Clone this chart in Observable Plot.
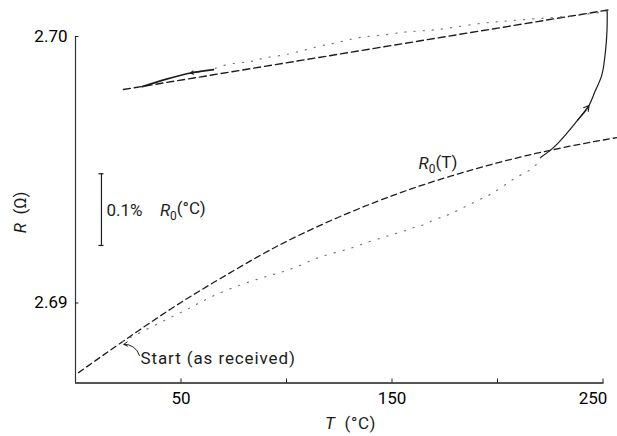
<!DOCTYPE html>
<html><head><meta charset="utf-8">
<script src="https://cdn.jsdelivr.net/npm/d3@7"></script>
<script src="https://cdn.jsdelivr.net/npm/@observablehq/plot@0.6"></script>
<style>
body{margin:0;background:#fff;}
svg text{font-family:Roboto,"DejaVu Sans",sans-serif;}
</style></head><body><div id="chart"></div>
<script>
// tick values / labels
const xTickValues = [50, 100, 150, 200, 250];
const xTickLabels = [50, 150];
const xLastLabel = [250];
const yTickLabels = [2.69, 2.70];
// R0(T) calibration curve (dashed)
const r0T = [1.42, 22.27, 45.02, 63.98, 86.26, 106.64, 130.33, 154.03, 177.73, 201.42, 220.38, 239.34, 256.87];
const r0R = [2.68739, 2.68855, 2.68977, 2.69070, 2.69173, 2.69257, 2.69341, 2.69414, 2.69476, 2.69529, 2.69565, 2.69596, 2.69621];
// straight dashed line (upper)
const lineT = [22.7, 253.6];
const lineR = [2.69801, 2.70101];
// heating path, dotted part
const heatDotT = [22.3, 41.7, 54.5, 63.5, 78.2, 89.1, 98.6, 105.2, 114.2, 130.3, 136, 146, 150.7, 156.4, 160.7, 164.9, 169.2, 173.9, 177.3, 193.4, 197.6, 205.2, 210, 214.2, 219, 220.4];
const heatDotR = [2.68855, 2.68934, 2.68981, 2.69023, 2.69069, 2.69097, 2.69118, 2.69135, 2.69172, 2.69203, 2.69223, 2.69246, 2.69259, 2.69271, 2.69285, 2.69291, 2.69311, 2.69323, 2.69332, 2.69396, 2.6941, 2.69453, 2.69478, 2.69491, 2.69522, 2.69546];
// heating path, solid part
const heatSolidT = [220.4, 226.5, 233.2, 237.9, 242.7, 246.4, 249.5, 251.2, 251.9, 252];
const heatSolidR = [2.69546, 2.69583, 2.6964, 2.69685, 2.69732, 2.69797, 2.69857, 2.69947, 2.70023, 2.70094];
// cooling path, dotted part
const coolDotT = [252, 234.6, 212.3, 201.4, 190.5, 176.3, 165.9, 156.4, 146, 135.1, 125.6, 115.2, 105.1, 98, 89.6, 83.9, 78.2, 72, 65.4];
const coolDotR = [2.70094, 2.70075, 2.70064, 2.70056, 2.70049, 2.70030, 2.70021, 2.70019, 2.70004, 2.70000, 2.69979, 2.69964, 2.69941, 2.69929, 2.69921, 2.69906, 2.69902, 2.69897, 2.69878];
// cooling path, solid part
const coolSolidT = [65.4, 59.2, 54.5, 42.7, 31.6];
const coolSolidR = [2.69876, 2.69869, 2.69863, 2.69839, 2.69812];
// direction arrows
const arrowT1 = [237.9, 59.2];
const arrowR1 = [2.69685, 2.69869];
const arrowT2 = [243.4, 54.5];
const arrowR2 = [2.69741, 2.69863];
// start leader
const startT = [30.3, 22.9];
const startR = [2.68803, 2.68845];
// scale bar (0.1% of R0)
const barT = 12.3;
const barR = [2.69216, 2.69485];
const barCapHalf = 1.2;
// labels
const labelText = ["Start (as received)", "R0(T)", "0.1%  R0(°C)"];
const labelT = [30.8, 162.6, 14.7];
const labelR = [2.68792, 2.69523, 2.69347];
const xTitle = "T (°C)", xTitleT = 130.3, xTitleR = 2.68548;
const yTitle = "R (Ω)", yTitleT = -26.1, yTitleR = 2.6934;

const ink = "#1c1c1c";
const yBottom = 2.687, yTop = 2.70, xLeft = 0, xRight = 250;
const tickLen = 0.00015;

const pts = (T, R) => T.map((t, i) => ({t, r: R[i]}));

const plot = Plot.plot({
  width: 617, height: 436,
  marginLeft: 75, marginRight: 14.5, marginTop: 36, marginBottom: 53.5,
  x: {domain: [xLeft, xRight]},
  y: {domain: [yBottom, yTop]},
  style: {fontFamily: "Roboto", fontSize: "16px", color: ink, background: "#fff"},
  marks: [
    // axes lines
    Plot.ruleY([yBottom], {x1: xLeft, x2: 250.5, stroke: ink, strokeWidth: 1.3}),
    Plot.ruleX([xLeft], {y1: yBottom, y2: yTop, stroke: "#333", strokeWidth: 1.2}),
    Plot.ruleX(xTickValues, {y1: yBottom, y2: yBottom + tickLen, stroke: ink}),
    Plot.ruleY(yTickLabels, {x1: xLeft, x2: 1.6, stroke: ink}),
    Plot.axisX(xTickLabels, {tickSize: 0, tickPadding: 9, label: null, fontSize: 17}),
    Plot.axisX(xLastLabel, {tickSize: 0, tickPadding: 9, label: null, fontSize: 17, dx: -10}),
    Plot.axisY(yTickLabels, {tickSize: 0, tickPadding: 8, tickFormat: d3.format(".2f"), label: null, fontSize: 17}),
    // curves
    Plot.line(pts(r0T, r0R), {x: "t", y: "r", curve: "natural", stroke: ink, strokeWidth: 1.3, strokeDasharray: "6 4"}),
    Plot.line(pts(lineT, lineR), {x: "t", y: "r", stroke: ink, strokeWidth: 1.4, strokeDasharray: "7 4"}),
    Plot.line(pts(heatDotT, heatDotR), {x: "t", y: "r", curve: "basis", stroke: "#777", strokeWidth: 1.2, strokeDasharray: "1.2 8"}),
    Plot.line(pts(heatSolidT, heatSolidR), {x: "t", y: "r", curve: "catmull-rom", stroke: ink, strokeWidth: 1.2}),
    Plot.line(pts(coolDotT, coolDotR), {x: "t", y: "r", curve: "basis", stroke: "#777", strokeWidth: 1.2, strokeDasharray: "1.2 8"}),
    Plot.line(pts(coolSolidT, coolSolidR), {x: "t", y: "r", curve: "catmull-rom", stroke: ink, strokeWidth: 1.7}),
    Plot.arrow(arrowT1.map((t, i) => i), {x1: i => arrowT1[i], y1: i => arrowR1[i], x2: i => arrowT2[i], y2: i => arrowR2[i], stroke: ink, strokeWidth: 1.1, headLength: 8}),
    // start leader
    Plot.arrow([0], {x1: startT[0], y1: startR[0], x2: startT[1], y2: startR[1], bend: -40, stroke: ink, strokeWidth: 1, headLength: 6}),
    // scale bar
    Plot.ruleX([barT], {y1: barR[0], y2: barR[1], stroke: ink, strokeWidth: 1.2}),
    Plot.ruleY(barR, {x1: barT - barCapHalf, x2: barT + barCapHalf, stroke: ink, strokeWidth: 1.2}),
    // labels
    Plot.text(labelText, {x: labelT, y: labelR, text: d => d, textAnchor: "start", fontSize: 17, fill: ink}),
    Plot.text([xTitle], {x: [xTitleT], y: [xTitleR], text: d => d, fontSize: 17, fill: ink}),
    Plot.text([yTitle], {x: [yTitleT], y: [yTitleR], text: d => d, rotate: -90, fontSize: 17, fill: ink})
  ]
});

function rich(el, parts) {
  const s = d3.select(el);
  s.text("");
  for (const p of parts) {
    const ts = s.append("tspan").text(p.t);
    if (p.i) ts.attr("font-style", "italic");
    if (p.sub) ts.attr("font-size", "0.7em").attr("dy", "0.3em");
    if (p.up) ts.attr("dy", "-0.3em");
  }
}
d3.select(plot).selectAll("text").each(function () {
  const t = this.textContent;
  if (t === "R0(T)") rich(this, [{t: "R", i: 1}, {t: "0", sub: 1}, {t: "(T)", up: 1}]);
  else if (t === "0.1%  R0(°C)") rich(this, [{t: "0.1%\u2002\u2002"}, {t: "R", i: 1}, {t: "0", sub: 1}, {t: "(°C)", up: 1}]);
  else if (t === "T (°C)") { rich(this, [{t: "T", i: 1}, {t: "\u2002(°C)"}]); this.setAttribute("letter-spacing", "0.6"); }
  else if (t === "R (Ω)") rich(this, [{t: "R", i: 1}, {t: "\u2002(Ω)"}]);
  else if (t === "Start (as received)") this.setAttribute("letter-spacing", "0.9");
});
d3.select(plot).attr("style", null).style("font-family", "Roboto").style("background", "#fff").style("overflow", "visible");
document.getElementById("chart").appendChild(plot);
</script></body></html>
